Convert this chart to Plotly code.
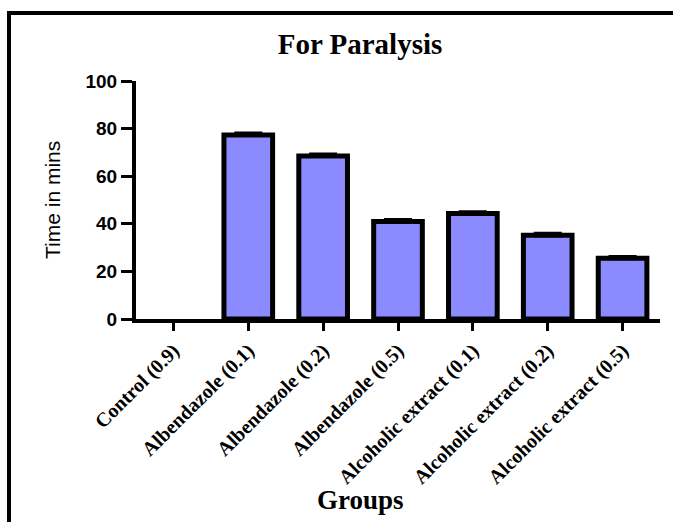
import plotly.graph_objects as go

# Paralysis time per treatment group
groups = [
    "Control (0.9)",
    "Albendazole (0.1)",
    "Albendazole (0.2)",
    "Albendazole (0.5)",
    "Alcoholic extract (0.1)",
    "Alcoholic extract (0.2)",
    "Alcoholic extract (0.5)",
]
mean_time = [0, 77.3, 68.5, 41.0, 44.3, 35.2, 25.5]
sem_time = [0, 0.6, 0.6, 0.6, 0.6, 0.6, 0.6]
y_ticks = [0, 20, 40, 60, 80, 100]

W, H = 673, 522
L, R, T, B = 136, 13, 81, 203
plot_w = W - L - R
plot_h = H - T - B


def px_x(x):
    return (x - L) / plot_w


def px_y(y):
    return (H - B - y) / plot_h


serif = "Liberation Serif, Times New Roman, serif"
sans = "Liberation Sans, Arial, sans-serif"

# no outline on empty (zero-height) bars
outline_w = [5 if v else 0 for v in mean_time]

fig = go.Figure()
fig.add_bar(
    x=groups,
    y=mean_time,
    width=0.65,
    marker=dict(color="#8b8bff", line=dict(color="black", width=outline_w)),
)

# upper error bars only, for the non-empty groups
nz = [i for i, v in enumerate(mean_time) if v]
fig.add_scatter(
    x=[groups[i] for i in nz],
    y=[mean_time[i] for i in nz],
    mode="markers",
    marker=dict(size=0.1, color="black", opacity=0),
    error_y=dict(
        type="data",
        array=[sem_time[i] for i in nz],
        arrayminus=[0] * len(nz),
        color="black",
        thickness=4,
        width=14,
    ),
    hoverinfo="skip",
)

fig.update_layout(
    width=W,
    height=H,
    margin=dict(l=L, r=R, t=T, b=B),
    paper_bgcolor="white",
    plot_bgcolor="white",
    showlegend=False,
    title=dict(
        text="<b>For Paralysis</b>",
        font=dict(family=serif, size=29, color="black"),
        xref="container",
        yref="container",
        x=360 / W,
        y=1 - 44 / H,
        xanchor="center",
        yanchor="middle",
    ),
    xaxis=dict(
        range=[-0.5, 6.5],
        showline=True,
        linecolor="black",
        linewidth=4,
        ticks="outside",
        ticklen=8,
        tickwidth=3,
        tickcolor="black",
        tickangle=-45,
        tickfont=dict(family=serif, size=20, color="black", weight="bold"),
        showgrid=False,
        zeroline=False,
        fixedrange=True,
    ),
    yaxis=dict(
        range=[0, 100],
        tickvals=y_ticks,
        showline=True,
        linecolor="black",
        linewidth=4,
        ticks="outside",
        ticklen=11,
        tickwidth=3,
        tickcolor="black",
        tickfont=dict(family=sans, size=19, color="black", weight="bold"),
        showgrid=False,
        zeroline=False,
        fixedrange=True,
    ),
    annotations=[
        dict(
            text="Time in mins",
            x=px_x(52),
            y=0.5,
            xref="paper",
            yref="paper",
            textangle=-90,
            showarrow=False,
            xanchor="center",
            yanchor="middle",
            font=dict(family=sans, size=21, color="black"),
        ),
        dict(
            text="<b>Groups</b>",
            x=px_x(360),
            y=px_y(500),
            xref="paper",
            yref="paper",
            showarrow=False,
            xanchor="center",
            yanchor="middle",
            font=dict(family=serif, size=27, color="black"),
        ),
    ],
    shapes=[
        dict(
            type="rect",
            xref="paper",
            yref="paper",
            x0=px_x(9),
            x1=px_x(W + 40),
            y0=px_y(H + 40),
            y1=px_y(13),
            line=dict(color="black", width=4),
            fillcolor="rgba(0,0,0,0)",
            layer="above",
        )
    ],
)

fig.write_html("out.html")
